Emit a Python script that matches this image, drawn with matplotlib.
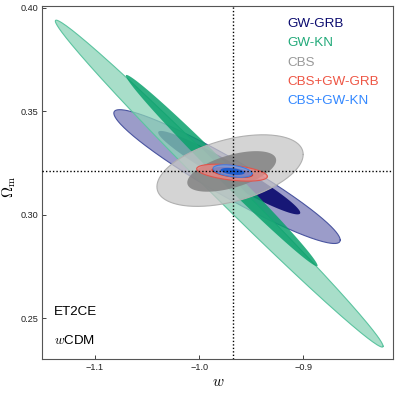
import numpy as np
from matplotlib import pyplot as plt

plt.rcParams['font.family'] = ['Liberation Sans', 'DejaVu Sans']
plt.rcParams['mathtext.fontset'] = 'cm'

# fiducial values
w_fid = -0.968
om_fid = 0.3212

# contour data: centre, half extent in w and Omega_m, correlation
names = ['GW-GRB', 'GW-KN', 'CBS', 'CBS+GW-GRB', 'CBS+GW-KN']

w95 = [-0.9733, -0.9808, -0.9704, -0.9685, -0.9680]
om95 = [0.3185, 0.3151, 0.3214, 0.3204, 0.3212]
dw95 = [0.1085, 0.1571, 0.0701, 0.0339, 0.0187]
dom95 = [0.03234, 0.0790, 0.0173, 0.0041, 0.00304]
rho95 = [-0.948, -0.9946, 0.45, -0.45, -0.40]

w68 = [-0.9712, -0.9784, -0.9688, -0.9682, -0.9680]
om68 = [0.3204, 0.3214, 0.3210, 0.3205, 0.3210]
dw68 = [0.0681, 0.0919, 0.0426, 0.0200, 0.0115]
dom68 = [0.02017, 0.04623, 0.0098, 0.0027, 0.0017]
rho68 = [-0.961, -0.9930, 0.55, -0.45, -0.40]

fill95 = ['#7a7bb7', '#8bd4b7', '#c6c6c6', '#ef8884', '#679eee']
edge95 = ['#4a55a0', '#5cc4a0', '#b0b0b0', '#e0554c', '#3f80e0']
fill68 = ['#000068', '#0aa16c', '#828282', '#d9281a', '#0a56d1']
text_col = ['#0a0a6e', '#22aa7a', '#999999', '#ee5544', '#3388ff']


def ellipse(cw, co, hw, ho, r, n=300):
    t = np.linspace(0, 2 * np.pi, n)
    x = cw + hw * np.cos(t)
    y = co + ho * (r * np.cos(t) + np.sqrt(1 - r ** 2) * np.sin(t))
    return x, y


fig = plt.figure(figsize=(3.99, 3.94), dpi=100)
ax = fig.add_axes([0.106, 0.0881, 0.8797, 0.8959])

for i in range(len(names)):
    x, y = ellipse(w95[i], om95[i], dw95[i], dom95[i], rho95[i])
    ax.fill(x, y, color=fill95[i], alpha=0.75, lw=0, zorder=2 + 2 * i)
    ax.plot(x, y, color=edge95[i], lw=0.8, zorder=2 + 2 * i)
    x, y = ellipse(w68[i], om68[i], dw68[i], dom68[i], rho68[i])
    ax.fill(x, y, color=fill68[i], alpha=0.85, lw=0, zorder=3 + 2 * i)

ax.axvline(w_fid, color='k', ls=(0, (1, 1.5)), lw=1, zorder=20)
ax.axhline(om_fid, color='k', ls=(0, (1, 1.5)), lw=1, zorder=20)

ax.set_xlim(-1.1504, -0.8139)
ax.set_ylim(0.2302, 0.4008)
ax.set_xticks([-1.1, -1.0, -0.9])
ax.set_xticklabels(['\u22121.1', '\u22121.0', '\u22120.9'])
ax.set_yticks([0.25, 0.30, 0.35, 0.40])
ax.set_yticklabels(['0.25', '0.30', '0.35', '0.40'])
ax.tick_params(direction='in', length=3, width=0.6, labelsize=6.6,
               colors='#222222', pad=3)
for s in ax.spines.values():
    s.set_color('#555555')
    s.set_linewidth(0.8)

ax.set_xlabel(r'$w$', fontsize=11, labelpad=2)
ax.set_ylabel(r'$\Omega_{\rm m}$', fontsize=11)
ax.yaxis.set_label_coords(-0.07, 0.488)

ys = [0.949, 0.895, 0.839, 0.785, 0.731]
for name, c, yy in zip(names, text_col, ys):
    ax.text(0.698, yy, name, color=c, fontsize=9.6, va='center',
            transform=ax.transAxes)

ax.text(0.034, 0.133, 'ET2CE', fontsize=9.6, va='center', transform=ax.transAxes)
ax.text(0.034, 0.054, r'$w$CDM', fontsize=9.6, va='center', transform=ax.transAxes)

fig.savefig('out.png', dpi=100)
